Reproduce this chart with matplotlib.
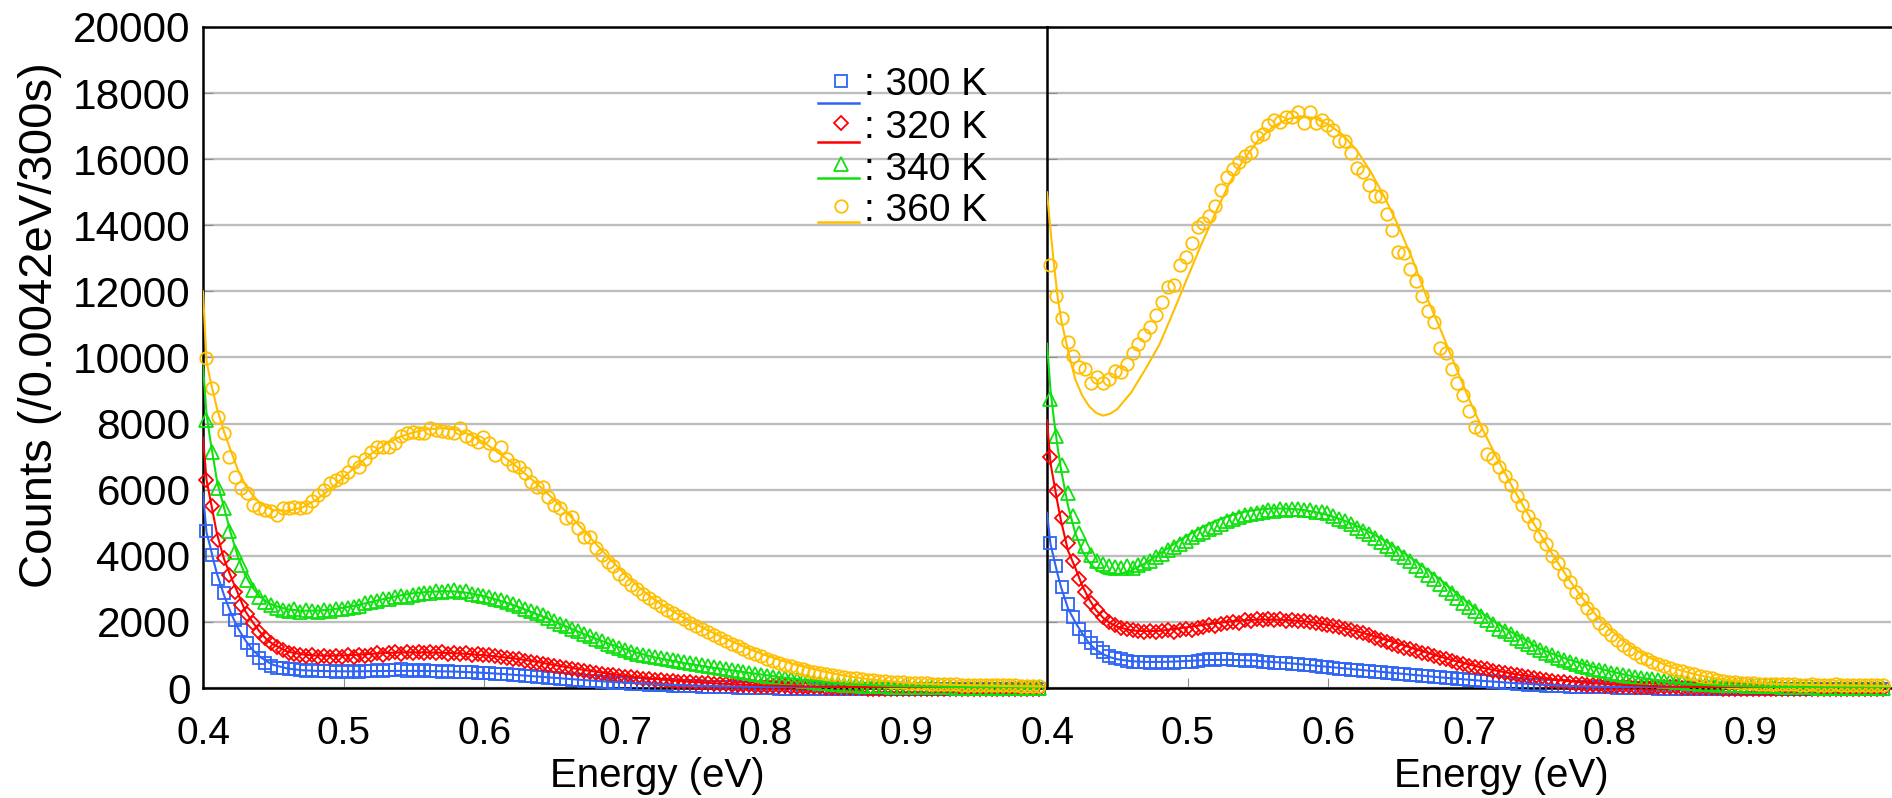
import numpy as np
import matplotlib
matplotlib.use("Agg")
import matplotlib.pyplot as plt
from matplotlib.lines import Line2D

plt.rcParams["font.family"] = ["Liberation Sans", "DejaVu Sans"]

# ---------------------------------------------------------------- data
TEMPS = [300, 320, 340, 360]
COLORS = ["#2f64f5", "#ff0000", "#10e010", "#ffbf00"]
MARKERS = ["s", "D", "^", "o"]

# measured spectra: bins of 0.0042 eV starting at 0.402 eV
E_START, E_STEP, N_PTS = 0.402, 0.0042, 142

left_300 = [4760, 4030, 3300, 2880, 2400, 2060, 1760, 1370, 1150, 900,
            760, 670, 620, 600, 570, 560, 540, 520, 530, 510,
            500, 520, 490, 500, 480, 510, 490, 500, 520, 540,
            510, 550, 530, 560, 520, 540, 510, 530, 500, 520,
            490, 500, 480, 490, 470, 480, 460, 450, 440, 430,
            420, 410, 390, 380, 370, 350, 340, 320, 310, 300,
            280, 270, 250, 240, 220, 210, 200, 190, 170, 160,
            150, 140, 130, 120, 110, 100, 95, 90, 80, 75,
            70, 60, 55, 50, 45, 40, 35, 30, 25, 20,
            15, 10, 5, 0, -5, -10, -15, -20, -20, -25,
            -30, -30, -35, -30, -40, -35, -40, -35, -40, -40,
            -35, -40, -40, -45, -40, -40, -45, -40, -45, -40,
            -40, -45, -40, -40, -45, -40, -45, -40, -40, -45,
            -40, -40, -45, -40, -40, -45, -40, -40, -45, -40,
            -40, -45]
left_320 = [6300, 5520, 4480, 3940, 3420, 2900, 2520, 2240, 1970, 1700,
            1510, 1360, 1240, 1150, 1060, 1020, 990, 960, 1000, 950,
            980, 930, 970, 950, 990, 940, 1000, 960, 1010, 1050,
            1000, 1060, 1090, 1040, 1100, 1060, 1090, 1050, 1100, 1060,
            1090, 1040, 1070, 1030, 1060, 1010, 1030, 990, 1000, 960,
            940, 920, 890, 870, 830, 800, 770, 740, 700, 670,
            630, 600, 570, 540, 510, 480, 450, 430, 400, 380,
            360, 340, 320, 300, 280, 260, 245, 230, 215, 200,
            190, 180, 170, 160, 150, 140, 130, 120, 110, 100,
            95, 90, 80, 75, 70, 65, 60, 55, 50, 45,
            40, 35, 30, 25, 20, 15, 10, 5, 0, -5,
            -10, -15, -20, -20, -25, -30, -25, -30, -35, -30,
            -30, -35, -30, -35, -30, -30, -35, -30, -35, -30,
            -30, -35, -30, -30, -35, -30, -35, -30, -30, -35,
            -30, -35]
left_340 = [8120, 7150, 6060, 5450, 4760, 4120, 3730, 3270, 2970, 2760,
            2610, 2520, 2420, 2360, 2330, 2380, 2300, 2350, 2320, 2300,
            2360, 2330, 2380, 2400, 2420, 2450, 2480, 2560, 2600, 2620,
            2680, 2700, 2740, 2780, 2760, 2820, 2850, 2880, 2860, 2920,
            2900, 2940, 2960, 2900, 2920, 2850, 2820, 2780, 2740, 2700,
            2650, 2600, 2540, 2470, 2400, 2330, 2280, 2200, 2120, 2030,
            1950, 1880, 1800, 1720, 1640, 1560, 1490, 1420, 1340, 1280,
            1220, 1160, 1090, 1030, 990, 955, 925, 900, 870, 840,
            810, 780, 760, 730, 700, 670, 640, 610, 580, 550,
            520, 490, 460, 430, 400, 370, 340, 310, 290, 260,
            240, 220, 200, 180, 160, 145, 130, 120, 105, 95,
            85, 75, 70, 60, 55, 50, 45, 40, 40, 35,
            30, 30, 25, 25, 20, 20, 20, 15, 15, 15,
            10, 10, 10, 10, 5, 5, 5, 5, 0, 0,
            0, 0]
left_360 = [9970, 9090, 8210, 7730, 7000, 6390, 6060, 5910, 5550, 5450,
            5390, 5360, 5240, 5450, 5450, 5480, 5450, 5480, 5670, 5850,
            6000, 6210, 6300, 6390, 6550, 6850, 6700, 6940, 7150, 7300,
            7300, 7300, 7420, 7610, 7730, 7760, 7730, 7730, 7880, 7820,
            7790, 7760, 7730, 7880, 7610, 7520, 7450, 7580, 7420, 7060,
            7300, 6940, 6760, 6700, 6520, 6240, 6090, 6090, 5790, 5550,
            5450, 5150, 5180, 4850, 4580, 4580, 4240, 4030, 3800, 3680,
            3450, 3300, 3120, 2990, 2850, 2730, 2600, 2480, 2360, 2270,
            2180, 2080, 1980, 1880, 1780, 1680, 1590, 1500, 1420, 1340,
            1260, 1180, 1100, 1030, 960, 890, 830, 770, 710, 660,
            610, 560, 520, 480, 445, 410, 380, 350, 330, 300,
            290, 270, 250, 230, 220, 200, 190, 180, 170, 160,
            150, 140, 140, 130, 120, 120, 110, 110, 100, 100,
            100, 90, 90, 90, 80, 80, 80, 80, 70, 70,
            70, 70]

right_300 = [4400, 3700, 3050, 2550, 2150, 1800, 1550, 1350, 1200, 1080,
             980, 910, 870, 830, 800, 790, 780, 770, 790, 760,
             780, 770, 790, 800, 780, 820, 850, 880, 860, 890,
             870, 860, 850, 830, 840, 810, 800, 790, 770, 760,
             750, 730, 720, 700, 690, 670, 650, 630, 610, 590,
             560, 545, 530, 515, 500, 485, 470, 455, 440, 425,
             410, 395, 380, 365, 350, 335, 320, 305, 290, 275,
             260, 245, 230, 215, 200, 185, 170, 155, 140, 125,
             112, 100, 90, 80, 72, 64, 57, 50, 45, 40,
             35, 31, 28, 25, 22, 20, 15, 10, 5, 0,
             -5, -10, -15, -20, -25, -30, -30, -35, -30, -35,
             -40, -35, -40, -35, -40, -40, -35, -40, -40, -35,
             -40, -35, -40, -40, -35, -40, -40, -35, -40, -40,
             -35, -40, -40, -35, -40, -40, -35, -40, -40, -35,
             -40, -40]
right_320 = [7000, 5950, 5150, 4400, 3850, 3300, 2900, 2580, 2350, 2150,
             2000, 1900, 1830, 1780, 1740, 1720, 1700, 1730, 1690, 1720,
             1750, 1700, 1760, 1780, 1750, 1820, 1850, 1900, 1880, 1950,
             1980, 2000, 1960, 2050, 2020, 2080, 2050, 2100, 2060, 2090,
             2040, 2070, 2020, 2040, 1990, 1970, 1940, 1910, 1870, 1840,
             1790, 1750, 1700, 1650, 1590, 1520, 1460, 1400, 1320, 1270,
             1220, 1170, 1120, 1070, 1020, 970, 920, 870, 820, 770,
             720, 680, 640, 600, 560, 520, 480, 450, 410, 380,
             350, 320, 290, 260, 235, 210, 190, 170, 150, 135,
             120, 105, 95, 85, 75, 65, 58, 52, 46, 41,
             37, 33, 30, 27, 24, 22, 20, 15, 10, 5,
             0, -5, -10, -15, -20, -25, -30, -30, -35, -30,
             -35, -40, -35, -40, -35, -40, -40, -35, -40, -35,
             -40, -40, -35, -40, -35, -40, -40, -35, -40, -40,
             -35, -40]
right_340 = [8730, 7610, 6750, 5900, 5200, 4700, 4300, 4030, 3850, 3750,
             3680, 3650, 3620, 3680, 3640, 3720, 3780, 3850, 3950, 4050,
             4180, 4260, 4350, 4450, 4560, 4650, 4720, 4800, 4880, 4950,
             5050, 5100, 5180, 5220, 5250, 5300, 5330, 5380, 5360, 5420,
             5400, 5430, 5410, 5380, 5400, 5340, 5320, 5280, 5200, 5120,
             5050, 4950, 4850, 4760, 4650, 4530, 4420, 4300, 4200, 4090,
             3950, 3830, 3700, 3560, 3430, 3300, 3150, 3000, 2860, 2720,
             2580, 2450, 2320, 2180, 2060, 1930, 1800, 1720, 1620, 1520,
             1420, 1320, 1230, 1150, 1070, 990, 920, 850, 790, 730,
             680, 630, 580, 540, 500, 460, 420, 390, 360, 330,
             310, 285, 260, 240, 220, 200, 185, 170, 155, 140,
             130, 120, 110, 100, 95, 90, 85, 80, 75, 70,
             65, 60, 55, 50, 45, 40, 35, 30, 25, 20,
             15, 10, 5, 0, 0, -5, 0, -5, 0, -5,
             0, -5]
right_360 = [12790, 11850, 11210, 10480, 10060, 9700, 9640, 9240, 9420, 9240,
             9360, 9580, 9550, 9790, 10150, 10420, 10670, 10910, 11300, 11670,
             12120, 12180, 12790, 13030, 13450, 13940, 14060, 14270, 14580, 15060,
             15450, 15700, 15910, 16090, 16210, 16670, 16760, 17030, 17180, 17120,
             17270, 17270, 17420, 17090, 17420, 17090, 17180, 17030, 16880, 16550,
             16550, 16180, 15730, 15610, 15210, 14880, 14880, 14330, 13850, 13180,
             13150, 12670, 12300, 11850, 11420, 11060, 10300, 10150, 9640, 9240,
             8880, 8390, 7910, 7820, 7090, 6950, 6700, 6400, 6150, 5800,
             5550, 5200, 4950, 4600, 4350, 4000, 3780, 3450, 3200, 2900,
             2700, 2430, 2250, 1980, 1800, 1600, 1450, 1300, 1180, 1050,
             950, 870, 800, 720, 660, 600, 550, 500, 450, 410,
             370, 330, 290, 250, 210, 190, 170, 160, 150, 140,
             130, 130, 120, 120, 110, 110, 110, 100, 100, 110,
             100, 90, 100, 110, 100, 90, 100, 100, 90, 100,
             100, 90]

# fitted model curves, sampled at these energies
FIT_E = ([0.400, 0.4025, 0.405, 0.4075, 0.410, 0.415, 0.420, 0.425,
          0.430, 0.435, 0.440, 0.445, 0.450]
         + [round(0.46 + 0.01 * k, 2) for k in range(55)])

left_fit_300 = [5900, 4700, 4300, 3850, 3450, 2800, 2250, 1800, 1450, 1170, 960, 810, 700,
                590, 540, 520, 510, 505, 505, 510, 515, 518, 518,
                512, 505, 495, 478, 458, 432, 403, 372, 340, 307,
                275, 243, 213, 185, 160, 137, 117, 100, 85, 72,
                61, 52, 44, 37, 31, 26, 22, 19, 16, 13,
                11, 9, 8, 7, 6, 5, 4, 4, 3, 3,
                3, 2, 2, 2, 2]
left_fit_320 = [7580, 6300, 5750, 5200, 4650, 3900, 3350, 2850, 2330, 2010, 1720, 1480, 1320,
                1100, 1020, 985, 975, 985, 1005, 1035, 1060, 1075, 1080,
                1075, 1065, 1050, 1025, 990, 950, 900, 840, 770, 690,
                620, 550, 485, 425, 370, 320, 280, 240, 205, 175,
                150, 128, 110, 95, 80, 68, 58, 50, 42, 36,
                30, 26, 22, 19, 16, 14, 12, 10, 9, 8,
                7, 6, 5, 5, 5]
left_fit_340 = [9730, 8300, 7550, 6900, 6250, 5450, 4650, 3950, 3420, 3050, 2780, 2620, 2500,
                2380, 2340, 2340, 2370, 2430, 2510, 2610, 2710, 2800, 2870,
                2910, 2930, 2920, 2870, 2780, 2660, 2520, 2360, 2190, 2010,
                1830, 1650, 1480, 1320, 1180, 1050, 940, 850, 770, 700,
                630, 570, 510, 450, 390, 330, 280, 230, 190, 150,
                120, 95, 75, 60, 50, 45, 40, 35, 30, 30,
                25, 25, 20, 20, 20]
left_fit_360 = [12000, 9900, 9350, 8900, 8450, 7750, 7150, 6580, 6150, 5850, 5620, 5470, 5380,
                5360, 5450, 5680, 6000, 6380, 6750, 7100, 7380, 7600, 7740,
                7830, 7860, 7820, 7660, 7420, 7120, 6800, 6450, 6080, 5680,
                5250, 4800, 4330, 3870, 3440, 3040, 2700, 2420, 2170, 1940,
                1720, 1520, 1330, 1150, 990, 850, 720, 610, 510, 420,
                345, 285, 235, 195, 160, 135, 115, 100, 88, 78,
                70, 62, 56, 50, 45]

right_fit_300 = [5300, 4350, 3900, 3450, 3050, 2400, 2000, 1650, 1350, 1150, 1020, 930, 870,
                 810, 790, 790, 800, 820, 840, 850, 850, 840, 820,
                 790, 760, 720, 680, 640, 600, 560, 520, 480, 440,
                 400, 360, 320, 285, 250, 215, 185, 155, 130, 105,
                 85, 68, 54, 43, 34, 27, 21, 17, 13, 10,
                 8, 6, 5, 4, 3, 3, 2, 2, 2, 1,
                 1, 1, 1, 1, 1]
right_fit_320 = [8100, 6800, 6200, 5600, 5050, 4150, 3650, 3100, 2680, 2350, 2120, 1960, 1850,
                 1740, 1720, 1730, 1780, 1840, 1900, 1960, 2010, 2050, 2070,
                 2070, 2060, 2030, 1980, 1910, 1820, 1720, 1600, 1470, 1340,
                 1200, 1070, 940, 820, 710, 610, 520, 440, 370, 310,
                 255, 210, 170, 140, 115, 92, 75, 60, 48, 38,
                 30, 24, 19, 15, 12, 10, 8, 7, 6, 5,
                 4, 4, 3, 3, 3]
right_fit_340 = [10420, 9000, 8100, 7300, 6600, 5500, 4700, 4150, 3800, 3580, 3460, 3420, 3430,
                 3560, 3780, 4060, 4350, 4620, 4860, 5060, 5220, 5330, 5400,
                 5430, 5430, 5400, 5330, 5230, 5090, 4910, 4700, 4460, 4190,
                 3900, 3590, 3270, 2900, 2560, 2240, 1950, 1690, 1460, 1200,
                 1020, 870, 740, 620, 510, 410, 330, 260, 200, 150,
                 115, 90, 70, 55, 45, 38, 32, 28, 25, 22,
                 20, 18, 16, 15, 14]
right_fit_360 = [15000, 13850, 12800, 11850, 11150, 10200, 9350, 8850, 8520, 8320, 8240, 8300, 8440,
                 8950, 9650, 10400, 11400, 12430, 13450, 14400, 15300, 16000, 16560,
                 16960, 17200, 17300, 17250, 17050, 16750, 16280, 15630, 14850, 13960,
                 12950, 11820, 10820, 9770, 8740, 7800, 6950, 6150, 5400, 4700,
                 4000, 3350, 2750, 2220, 1780, 1420, 1120, 880, 690, 540,
                 420, 330, 260, 210, 170, 140, 120, 105, 95, 85,
                 80, 75, 70, 65, 60]

XTICKS = [0.4, 0.5, 0.6, 0.7, 0.8, 0.9]
YTICKS = list(range(0, 20001, 2000))

panels = [
    ([left_300, left_320, left_340, left_360],
     [left_fit_300, left_fit_320, left_fit_340, left_fit_360]),
    ([right_300, right_320, right_340, right_360],
     [right_fit_300, right_fit_320, right_fit_340, right_fit_360]),
]
for meas, fits in panels:
    for m in meas:
        assert len(m) == N_PTS
    for f in fits:
        assert len(f) == len(FIT_E)

energy = E_START + E_STEP * np.arange(N_PTS)

# ---------------------------------------------------------------- figure
W, H = 1892, 798
fig = plt.figure(figsize=(W / 100, H / 100), dpi=100)

x0, x1, xr = 203, 1047, 1891
y_top, y_bot = 27, 688
ax_l = fig.add_axes([x0 / W, (H - y_bot) / H, (x1 - x0) / W, (y_bot - y_top) / H])
ax_r = fig.add_axes([x1 / W, (H - y_bot) / H, (xr - x1) / W, (y_bot - y_top) / H])
ax_r.patch.set_alpha(0)

for ax, (meas, fits) in zip([ax_l, ax_r], panels):
    ax.set_xlim(0.4, 1.0)
    ax.set_ylim(0, 20000)
    ax.set_xticks(XTICKS)
    ax.set_xticklabels([f"{t:.1f}" for t in XTICKS])
    ax.set_yticks(YTICKS)
    ax.set_yticklabels([str(t) for t in YTICKS])
    ax.tick_params(direction="in", length=7, width=0.8, color="#8c8c8c",
                   labelcolor="black")
    ax.tick_params(axis="x", pad=20, labelsize=28)
    ax.tick_params(axis="y", pad=9, labelsize=30.5)
    ax.grid(axis="y", color="#bdbdbd", lw=1.7)
    ax.set_axisbelow(True)
    for sp in ax.spines.values():
        sp.set_linewidth(1.8)
        sp.set_color("black")
    ax.spines["right"].set_visible(False)

    for vals, col, mk in zip(meas, COLORS, MARKERS):
        ms = 7.2 if mk == "D" else (10 if mk == "^" else 9)
        ax.plot(energy, vals, ls="none", marker=mk, ms=ms, mfc="none",
                mec=col, mew=1.3, clip_on=False, zorder=3)
    for vals, col in zip(fits, COLORS):
        ax.plot(FIT_E, vals, color=col, lw=1.5, zorder=3.2)

    ax.set_xlabel("Energy (eV)", fontsize=29)
    ax.xaxis.set_label_coords(0.538, -0.104)

ax_r.tick_params(axis="y", labelleft=False)

fig.text(40 / W, 1 - 325 / H, "Counts (/0.0042eV/300s)", rotation=90,
         ha="center", va="center", fontsize=34)

# legend: marker above a short line, then ": T K"
row_text = [95, 138, 180, 221]
row_mark = [81, 123, 164, 206]
row_line = [103, 142, 178, 222]
for t, col, mk, yt, ym, yl in zip(TEMPS, COLORS, MARKERS, row_text, row_mark, row_line):
    ms = 7.2 if mk == "D" else (10 if mk == "^" else 9)
    fig.add_artist(Line2D([841 / W], [1 - ym / H], marker=mk, ms=ms, mfc="none",
                          mec=col, mew=1.3, ls="none", transform=fig.transFigure))
    fig.add_artist(Line2D([818 / W, 859 / W], [1 - yl / H, 1 - yl / H], color=col,
                          lw=1.8, transform=fig.transFigure))
    fig.text(864 / W, 1 - yt / H, f": {t} K", fontsize=28, ha="left", va="baseline")

fig.savefig("out.png", dpi=100)
